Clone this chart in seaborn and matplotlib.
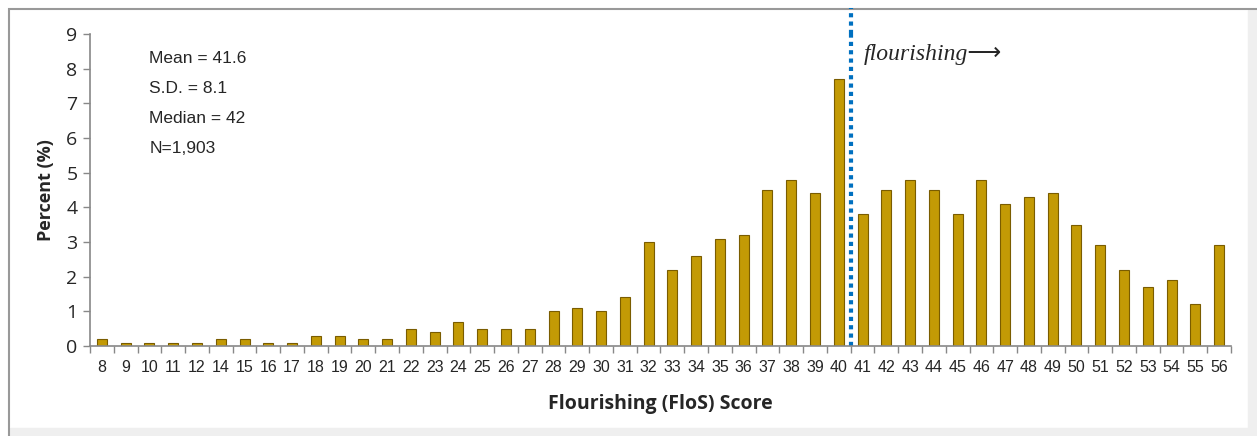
import numpy as np
import pandas as pd
import matplotlib
matplotlib.use("Agg")
import matplotlib.pyplot as plt
from matplotlib.patches import Rectangle
import seaborn as sns

# FloS score distribution (13 has no respondents, so it is not shown)
scores = [8, 9, 10, 11, 12, 14, 15, 16, 17, 18, 19, 20, 21, 22, 23, 24, 25, 26,
          27, 28, 29, 30, 31, 32, 33, 34, 35, 36, 37, 38, 39, 40, 41, 42, 43, 44,
          45, 46, 47, 48, 49, 50, 51, 52, 53, 54, 55, 56]
percent = [0.2, 0.1, 0.1, 0.1, 0.1, 0.2, 0.2, 0.1, 0.1, 0.3, 0.3, 0.2, 0.2, 0.5,
           0.4, 0.7, 0.5, 0.5, 0.5, 1.0, 1.1, 1.0, 1.4, 3.0, 2.2, 2.6, 3.1, 3.2,
           4.5, 4.8, 4.4, 7.7, 3.8, 4.5, 4.8, 4.5, 3.8, 4.8, 4.1, 4.3, 4.4, 3.5,
           2.9, 2.2, 1.7, 1.9, 1.2, 2.9]
stats_lines = ["Mean = 41.6", "S.D. = 8.1", "Median = 42", "N=1,903"]
cutoff_after = "40"

df = pd.DataFrame({"score": [str(s) for s in scores], "percent": percent})

sns.set_style("white")
plt.rcParams["font.family"] = ["Liberation Sans Narrow", "Liberation Sans", "DejaVu Sans"]

fig = plt.figure(figsize=(12.57, 4.36), dpi=100)
ax = fig.add_axes([90 / 1257, 90 / 436, 1141 / 1257, 312 / 436])

sns.barplot(data=df, x="score", y="percent", order=df["score"], color="#C39A05",
            width=0.42, saturation=1, edgecolor="#7a5c00", linewidth=0.8, ax=ax)

n = len(scores)
ax.set_xlim(-0.5, n - 0.5)
ax.set_ylim(0, 9)
ax.set_yticks(range(0, 10))
ax.tick_params(axis="y", labelsize=14, length=5, width=1, color="#888888",
               direction="out", left=True, pad=4)
for lab in ax.get_yticklabels():
    lab.set_family(["Open Sans", "DejaVu Sans"])
ax.set_xticks(np.arange(n))
ax.tick_params(axis="x", which="major", length=0, labelsize=11.5, pad=10)
ax.set_xticks(np.arange(n + 1) - 0.5, minor=True)
ax.tick_params(axis="x", which="minor", length=5, width=1, color="#888888",
               direction="out", bottom=True)
sns.despine(ax=ax)
for side in ["left", "bottom"]:
    ax.spines[side].set_color("#888888")
    ax.spines[side].set_linewidth(1.2)

ax.set_xlabel("Flourishing (FloS) Score", fontsize=14, fontweight="bold",
              family=["Open Sans", "DejaVu Sans"], labelpad=14)
ax.set_ylabel("Percent (%)", fontsize=13, fontweight="bold",
              family=["Open Sans", "DejaVu Sans"], labelpad=8)

# cutoff line between 40 and 41
cut = list(df["score"]).index(cutoff_after) + 0.5
ax.axvline(cut, ymin=0, ymax=1.0, color="#0070C0", linestyle=(0, (1, 1)),
           linewidth=3, clip_on=False)
ax.plot([cut, cut], [9, 9.75], color="#0070C0", linestyle=(0, (1, 1)),
        linewidth=3, clip_on=False)
ax.text(cut + 0.55, 8.4, "flourishing\u27f6", fontsize=17, style="italic",
        family=["Liberation Serif", "DejaVu Sans"], va="center", ha="left")

for i, line in enumerate(stats_lines):
    ax.text(2.0, 8.28 - i * 0.86, line, fontsize=12.5, va="center", ha="left")

# chart frame
fig.patches.append(Rectangle((9 / 1257, -0.05), 1.2, (1 - 9 / 436) + 0.05,
                             transform=fig.transFigure, fill=False,
                             edgecolor="#999999", linewidth=1.5, zorder=-1))
fig.patches.append(Rectangle((10 / 1257, 0), 1, 8 / 436, transform=fig.transFigure,
                             color="#efefef", zorder=-2))
fig.patches.append(Rectangle((1248 / 1257, 0), 9 / 1257, 1 - 10 / 436,
                             transform=fig.transFigure, color="#efefef", zorder=-2))

fig.savefig("out.png", dpi=100)
